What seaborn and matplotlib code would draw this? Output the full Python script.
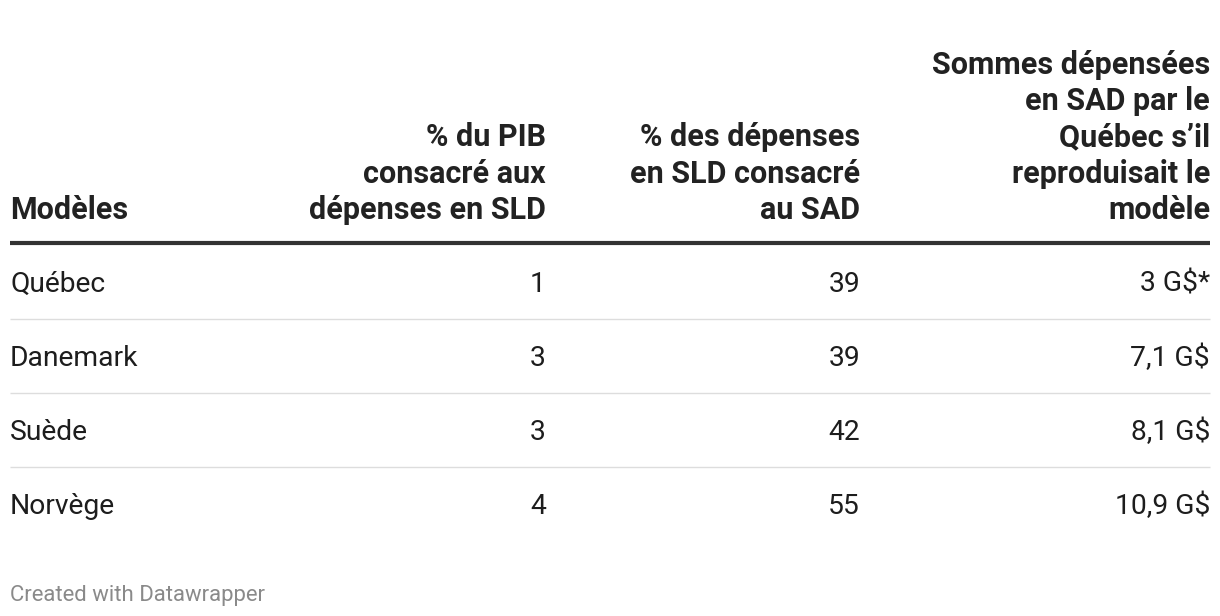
import matplotlib; matplotlib.use('Agg')
import matplotlib.pyplot as plt
import seaborn as sns

# ── Data ─────────────────────────────────────────────
headers = ['Modèles',
           '% du PIB\nconsacré aux\ndépenses en SLD',
           '% des dépenses\nen SLD consacré\nau SAD',
           'Sommes dépensées\nen SAD par le\nQuébec s’il\nreproduisait le\nmodèle']
modeles = ['Québec', 'Danemark', 'Suède', 'Norvège']
pib_sld = [1, 3, 3, 4]
sld_sad = [39, 39, 42, 55]
sommes = ['3 G$*', '7,1 G$', '8,1 G$', '10,9 G$']

sns.set_theme(style='white')
plt.rcParams['font.family'] = ['Roboto', 'DejaVu Sans']

W, H = 1220, 616
fig = plt.figure(figsize=(W/100, H/100), dpi=100)
ax = fig.add_axes([0, 0, 1, 1])
ax.set_xlim(0, W); ax.set_ylim(H, 0); ax.axis('off')

# layout (pixels)
col_x = [10, 546, 860, 1210]
col_ha = ['left', 'right', 'right', 'right']
head_bottom = 219
fs_head = 22
fs_body = 20.3

for x, ha, h in zip(col_x, col_ha, headers):
    ax.text(x, head_bottom, h, ha=ha, va='baseline', fontsize=fs_head,
            fontweight='bold', color='#222222', linespacing=1.265,
            multialignment=ha)

ax.hlines(243, 10, 1210, color='#333333', lw=3)

row0, row_h = 284, 74
for i, (m, a, b, s) in enumerate(zip(modeles, pib_sld, sld_sad, sommes)):
    y = row0 + i * row_h
    for x, ha, v in zip(col_x, col_ha, [m, a, b, s]):
        ax.text(x, y, str(v), ha=ha, va='center', fontsize=fs_body, color='#1d1d1d')
    if i < len(modeles) - 1:
        ax.hlines(y - 2 + row_h / 2, 10, 1210, color='#dddddd', lw=1)

ax.text(10, 595, 'Created with Datawrapper', ha='left', va='center',
        fontsize=15.9, color='#8a8a8a')

plt.savefig('out.png', dpi=100)
